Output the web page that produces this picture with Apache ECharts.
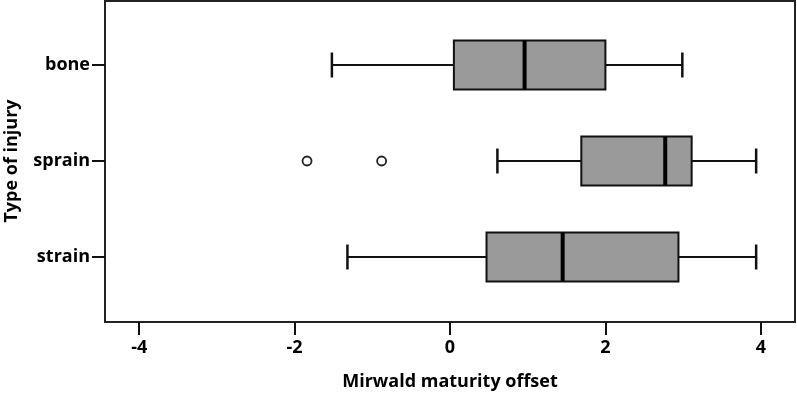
<!DOCTYPE html>
<html>
<head>
<meta charset="utf-8">
<script src="https://cdn.jsdelivr.net/npm/echarts@6/dist/echarts.min.js"></script>
<style>
  html, body { margin: 0; padding: 0; background: #fff; }
  #chart { width: 797px; height: 395px; }
</style>
</head>
<body>
<div id="chart"></div>
<script>
// injury types, top to bottom
const categories = ['bone', 'sprain', 'strain'];
const lowWhisker = [-1.52, 0.61, -1.32];
const q1 = [0.05, 1.69, 0.47];
const median = [0.96, 2.77, 1.45];
const q3 = [2.0, 3.11, 2.94];
const highWhisker = [2.99, 3.94, 3.94];
const outliers = [['sprain', -1.84], ['sprain', -0.88]];
const xTicks = [-4, -2, 0, 2, 4];

const fontFamily = '"Open Sans", "DejaVu Sans", sans-serif';
const ink = '#111';

const boxData = categories.map((c, i) => [i, lowWhisker[i], q1[i], median[i], q3[i], highWhisker[i]]);

function renderBox(params, api) {
  const cat = api.value(0);
  const lo = api.coord([api.value(1), cat]);
  const a = api.coord([api.value(2), cat]);
  const m = api.coord([api.value(3), cat]);
  const b = api.coord([api.value(4), cat]);
  const hi = api.coord([api.value(5), cat]);
  const band = api.size([0, 1])[1];
  const boxH = band * 0.51;
  const capH = band * 0.26;
  const y = lo[1];
  const line = { stroke: ink, lineWidth: 2 };
  return {
    type: 'group',
    children: [
      { type: 'line', shape: { x1: lo[0], y1: y, x2: a[0], y2: y }, style: line },
      { type: 'line', shape: { x1: b[0], y1: y, x2: hi[0], y2: y }, style: line },
      { type: 'line', shape: { x1: lo[0], y1: y - capH / 2, x2: lo[0], y2: y + capH / 2 }, style: { stroke: ink, lineWidth: 2.5 } },
      { type: 'line', shape: { x1: hi[0], y1: y - capH / 2, x2: hi[0], y2: y + capH / 2 }, style: { stroke: ink, lineWidth: 2.5 } },
      {
        type: 'rect',
        shape: { x: a[0], y: y - boxH / 2, width: b[0] - a[0], height: boxH },
        style: { fill: '#9a9a9a', stroke: ink, lineWidth: 2 }
      },
      { type: 'line', shape: { x1: m[0], y1: y - boxH / 2, x2: m[0], y2: y + boxH / 2 }, style: { stroke: '#000', lineWidth: 4 } }
    ]
  };
}

const chart = echarts.init(document.getElementById('chart'), null, { renderer: 'canvas' });

chart.setOption({
  animation: false,
  backgroundColor: '#fff',
  grid: [
    // frame + x axis
    { left: 105, right: 2, top: 1, bottom: 73, outerBoundsMode: 'none', containLabel: false, show: true, borderColor: '#222', borderWidth: 2, backgroundColor: 'transparent' },
    // category bands
    { left: 105, right: 2, top: 17, bottom: 90, outerBoundsMode: 'none', containLabel: false }
  ],
  xAxis: [
    {
      type: 'value',
      gridIndex: 0,
      min: -4.44,
      max: 4.44,
      name: 'Mirwald maturity offset',
      nameLocation: 'middle',
      nameGap: 51,
      nameTextStyle: { fontFamily, fontWeight: 'bold', fontSize: 18, color: '#000' },
      axisLine: { show: true, onZero: false, lineStyle: { color: '#222', width: 2 } },
      axisTick: { show: true, customValues: xTicks, length: 13, lineStyle: { color: '#111', width: 2 } },
      axisLabel: { customValues: xTicks, margin: 17, fontFamily, fontWeight: 'bold', fontSize: 18, color: '#000' },
      splitLine: { show: false }
    },
    { type: 'value', gridIndex: 1, min: -4.44, max: 4.44, show: false, axisLine: { onZero: false } }
  ],
  yAxis: [
    { type: 'value', gridIndex: 0, show: false, axisLine: { onZero: false } },
    {
      type: 'category',
      gridIndex: 1,
      data: categories,
      inverse: true,
      name: 'Type of injury',
      nameLocation: 'middle',
      nameGap: 84,
      nameRotate: 90,
      nameTextStyle: { fontFamily, fontWeight: 'bold', fontSize: 18, color: '#000' },
      axisLine: { show: false, onZero: false },
      axisTick: { show: true, alignWithLabel: true, length: 13, lineStyle: { color: '#111', width: 2 } },
      axisLabel: { margin: 15, fontFamily, fontWeight: 'bold', fontSize: 18, color: '#000' },
      splitLine: { show: false }
    }
  ],
  series: [
    {
      type: 'custom',
      xAxisIndex: 1,
      yAxisIndex: 1,
      renderItem: renderBox,
      encode: { x: [1, 2, 3, 4, 5], y: 0 },
      data: boxData,
      z: 3
    },
    {
      type: 'scatter',
      xAxisIndex: 1,
      yAxisIndex: 1,
      symbol: 'circle',
      symbolSize: 9,
      itemStyle: { color: '#fff', borderColor: '#222', borderWidth: 1.8, opacity: 1 },
      data: outliers.map(d => [d[1], d[0]]),
      z: 4
    }
  ]
});
</script>
</body>
</html>
